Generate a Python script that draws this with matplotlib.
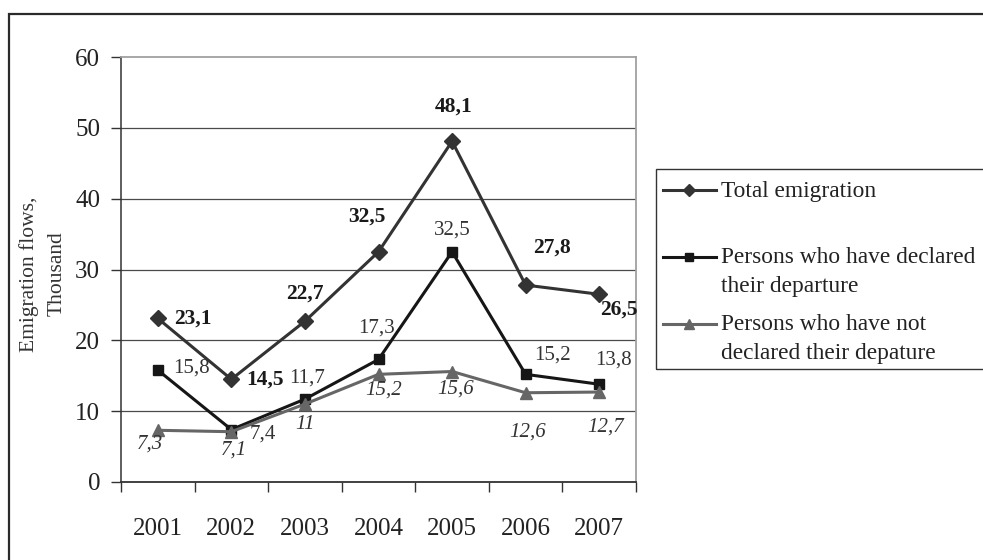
import numpy as np
import matplotlib
matplotlib.use('Agg')
import matplotlib.pyplot as plt
from matplotlib.patches import Rectangle
from matplotlib.lines import Line2D

plt.rcParams['font.family'] = ['Liberation Serif', 'DejaVu Serif']

# data
years = ['2001', '2002', '2003', '2004', '2005', '2006', '2007']
total = [23.1, 14.5, 22.7, 32.5, 48.1, 27.8, 26.5]
declared = [15.8, 7.4, 11.7, 17.3, 32.5, 15.2, 13.8]
not_declared = [7.3, 7.1, 11.0, 15.2, 15.6, 12.6, 12.7]

total_lbl = ['23,1', '14,5', '22,7', '32,5', '48,1', '27,8', '26,5']
declared_lbl = ['15,8', '7,4', '11,7', '17,3', '32,5', '15,2', '13,8']
not_declared_lbl = ['7,3', '7,1', '11', '15,2', '15,6', '12,6', '12,7']

names = ['Total emigration',
         'Persons who have declared\ntheir departure',
         'Persons who have not\ndeclared their depature']

# label offsets in pixels (dx, dy), dy up
off_total = [(35, 0), (34, 0), (0, 28), (-12, 35), (2, 35), (26, 37), (20, -15)]
off_decl = [(34, 2), (31, -4), (2, 21), (-2, 31), (0, 22), (27, 19), (14, 24)]
off_notd = [(-8, -14), (3, -18), (0, -20), (5, -16), (4, -18), (2, -39), (6, -35)]

W, H = 983, 560
fig = plt.figure(figsize=(W / 100, H / 100), dpi=100)
ax = fig.add_axes([121 / W, 1 - 482 / H, (636 - 121) / W, (482 - 57) / H])

x = np.arange(len(years))
c_tot, c_dec, c_not = '#333333', '#161616', '#666666'
ax.plot(x, total, color=c_tot, lw=2.2, marker='D', ms=7.8, zorder=5)
ax.plot(x, declared, color=c_dec, lw=2.2, marker='s', ms=7, zorder=5)
ax.plot(x, not_declared, color=c_not, lw=2.2, marker='^', ms=8.5, zorder=5)

for i in range(len(years)):
    ax.annotate(total_lbl[i], (x[i], total[i]), xytext=off_total[i],
                textcoords='offset pixels', ha='center', va='center',
                fontsize=15.5, fontweight='bold', color='#1a1a1a', zorder=6)
    ax.annotate(declared_lbl[i], (x[i], declared[i]), xytext=off_decl[i],
                textcoords='offset pixels', ha='center', va='center',
                fontsize=15, color='#333333', zorder=6)
    ax.annotate(not_declared_lbl[i], (x[i], not_declared[i]), xytext=off_notd[i],
                textcoords='offset pixels', ha='center', va='center',
                fontsize=15, style='italic', color='#333333', zorder=6)

ax.set_xlim(-0.5, len(years) - 0.5)
ax.set_ylim(0, 60)
ax.set_yticks(np.arange(0, 61, 10))
ax.set_xticks(x)
ax.set_xticklabels(years)
ax.set_xticks(np.arange(-0.5, len(years), 1), minor=True)
ax.tick_params(axis='x', which='major', length=0, pad=26, labelsize=18, labelcolor='#222222')
ax.tick_params(axis='x', which='minor', length=7, width=1, color='#333333', direction='out')
ax.tick_params(axis='y', length=7, width=1, color='#333333', pad=8, labelsize=18, labelcolor='#222222')

ax.grid(axis='y', color='#4a4a4a', lw=0.9)
ax.yaxis.get_gridlines()[-1].set_visible(False)
ax.set_axisbelow(True)
for s in ['top', 'right']:
    ax.spines[s].set_color('#a0a0a0')
    ax.spines[s].set_linewidth(1.3)
ax.spines['left'].set_color('#333333')
ax.spines['bottom'].set_color('#333333')
ax.spines['left'].set_linewidth(1.1)
ax.spines['bottom'].set_linewidth(1.3)

fig.text(43 / W, 1 - 274 / H, 'Emigration flows,\nThousand', rotation=90,
         ha='center', va='center', multialignment='center', fontsize=15.5,
         color='#333333', linespacing=1.6)

# outer frame
fig.add_artist(Rectangle((9 / W, -0.1), 1.2, 1 - 14 / H + 0.1, transform=fig.transFigure,
                         fill=False, ec='#2a2a2a', lw=1.6))

# legend box and entries
fig.add_artist(Rectangle((656 / W, 1 - 369 / H), 1.0, 200 / H, transform=fig.transFigure,
                         fill=False, ec='#333333', lw=1.0))
styles = [(c_tot, 'D', 6.5), (c_dec, 's', 6), (c_not, '^', 7)]
hs = [190, 257, 324]
ts = [192, 272, 339]
for (col, mk, ms), yy, ty, nm in zip(styles, hs, ts, names):
    yf = 1 - yy / H
    fig.add_artist(Line2D([663 / W, 716 / W], [yf, yf], transform=fig.transFigure,
                          color=col, lw=2.2))
    fig.add_artist(Line2D([689 / W], [yf], transform=fig.transFigure,
                          color=col, marker=mk, ms=ms, lw=0))
    fig.text(721 / W, 1 - ty / H, nm, ha='left', va='center', fontsize=16.8,
             color='#222222', linespacing=1.45)

fig.savefig('out.png', dpi=100)
